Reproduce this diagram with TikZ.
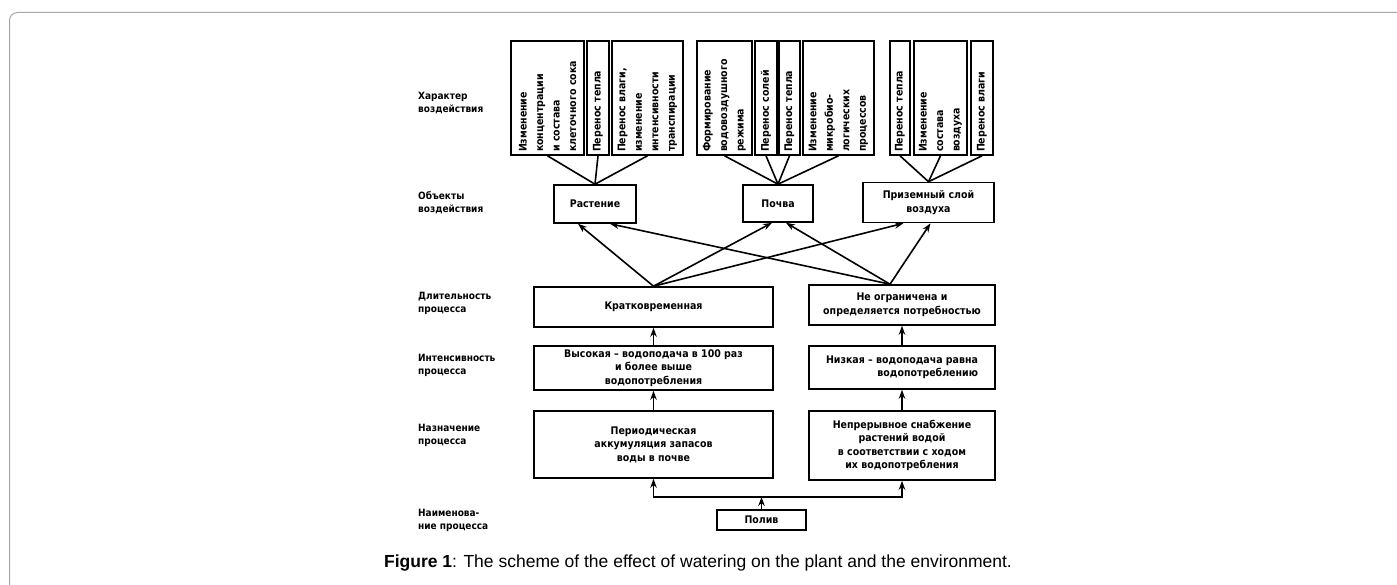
\documentclass[tikz,border=0pt]{standalone}
\usepackage{fontspec}
\setmainfont{DejaVu Sans Condensed}
\newfontfamily\capfont{Liberation Sans}
\usetikzlibrary{arrows.meta}
\begin{document}
\begin{tikzpicture}[x=1pt,y=-1pt,
  box/.style={draw, line width=1.6pt, align=center, inner sep=2pt, font=\bfseries\fontsize{10.5}{13.5}\selectfont},
  vbox/.style={draw, line width=1.6pt, rotate=90, align=left, text width=108pt, minimum width=114pt, inner sep=3pt, font=\bfseries\fontsize{10.5}{16.5}\selectfont},
  lbl/.style={anchor=west, align=left, inner sep=0pt, font=\bfseries\fontsize{10}{13}\selectfont},
  arr/.style={-{Stealth[length=9pt,width=6.5pt]}, line width=1.6pt},
  ln/.style={line width=1.6pt}]
\useasboundingbox (0,0) rectangle (1397,585);
\draw[gray!70, line width=1pt, rounded corners=8pt] (9.5,585) -- (9.5,12.5) -- (1397,12.5);
% left column
\node[lbl] (l1) at (418,103) {Характер\\воздействия};
\node[lbl] (l2) at (418,203) {Объекты\\воздействия};
\node[lbl] (l3) at (418,303) {Длительность\\процесса};
\node[lbl] (l4) at (418,365) {Интенсивность\\процесса};
\node[lbl] (l5) at (418,435) {Назначение\\процесса};
\node[lbl] (l6) at (418,520) {Наименова-\\ние процесса};
% effects
\node[vbox, minimum height=73pt] (eff1) at (547.5,98) {Изменение\\концентрации\\и состава\\клеточного сока};
\node[vbox, minimum height=22pt] (eff2) at (598,98) {Перенос тепла};
\node[vbox, minimum height=71pt] (eff3) at (647.5,98) {Перенос влаги,\\изменение\\интенсивности\\транспирации};
\node[vbox, minimum height=55pt] (eff4) at (724.5,98) {Формирование\\водовоздушного\\режима};
\node[vbox, minimum height=22pt] (eff5) at (766,98) {Перенос солей};
\node[vbox, minimum height=21pt] (eff6) at (789.5,98) {Перенос тепла};
\node[vbox, minimum height=71pt] (eff7) at (838.5,98) {Изменение\\микробио-\\логических\\процессов};
\node[vbox, minimum height=20pt] (eff8) at (900,98) {Перенос тепла};
\node[vbox, minimum height=53pt] (eff9) at (940.5,98) {Изменение\\состава\\воздуха};
\node[vbox, minimum height=22pt] (eff10) at (982,98) {Перенос влаги};
% objects
\node[box, minimum width=82pt, minimum height=38pt] (obj1) at (595,204) {Растение};
\node[box, minimum width=70pt, minimum height=37pt] (obj2) at (778,203.5) {Почва};
\node[box, minimum width=131pt, minimum height=40pt] (obj3) at (928.5,202.5) {Приземный слой\\воздуха};
\foreach \i in {1,2,3} \draw[ln] (obj1.north) -- (eff\i.west);
\foreach \i in {4,5,6,7} \draw[ln] (obj2.north) -- (eff\i.west);
\foreach \i in {8,9,10} \draw[ln] (obj3.north) -- (eff\i.west);
% process
\node[box, minimum width=239pt, minimum height=40pt] (dur1) at (653.5,307) {Кратковременная};
\node[box, minimum width=186pt, minimum height=40pt] (dur2) at (902,305) {Не ограничена и\\определяется потребностью};
\node[box, minimum width=239pt, minimum height=44pt] (int1) at (653.5,368) {Высокая – водоподача в 100 раз\\и более выше\\водопотребления};
\node[box, minimum width=186pt, minimum height=43pt, align=right] (int2) at (902,367.5) {Низкая – водоподача равна\\водопотреблению};
\node[box, minimum width=239pt, minimum height=67pt] (pur1) at (653.5,444.5) {Периодическая\\аккумуляция запасов\\воды в почве};
\node[box, minimum width=186pt, minimum height=69pt] (pur2) at (902,445.5) {Непрерывное снабжение\\растений водой\\в соответствии с ходом\\их водопотребления};
\node[box, minimum width=89pt, minimum height=20pt] (pol) at (761.5,520) {Полив};
\coordinate (jn) at (761.5,497);
% arrows
\draw[arr] (dur1.north) -- ([xshift=-17pt]obj1.south);
\draw[arr] (dur1.north) -- ([xshift=-6pt]obj2.south);
\draw[arr] (dur1.north) -- ([xshift=-25pt]obj3.south);
\draw[arr] ([xshift=-12pt]dur2.north) -- ([xshift=15pt]obj1.south);
\draw[arr] ([xshift=-12pt]dur2.north) -- ([xshift=8pt]obj2.south);
\draw[arr] ([xshift=-12pt]dur2.north) -- ([xshift=2pt]obj3.south);
\draw[arr] (int1.north) -- (dur1.south);
\draw[arr] (int2.north) -- (dur2.south);
\draw[arr] (pur1.north) -- (int1.south);
\draw[arr] (pur2.north) -- (int2.south);
\draw[arr] (pol.north) -- (jn);
\draw[arr] (jn) -| (pur1.south);
\draw[arr] (jn) -| (pur2.south);
% caption
\node[font=\capfont\fontsize{17.5}{20}\selectfont] (cap) at (698,563) {\textbf{Figure 1}: The scheme of the effect of watering on the plant and the environment.};
\end{tikzpicture}
\end{document}
